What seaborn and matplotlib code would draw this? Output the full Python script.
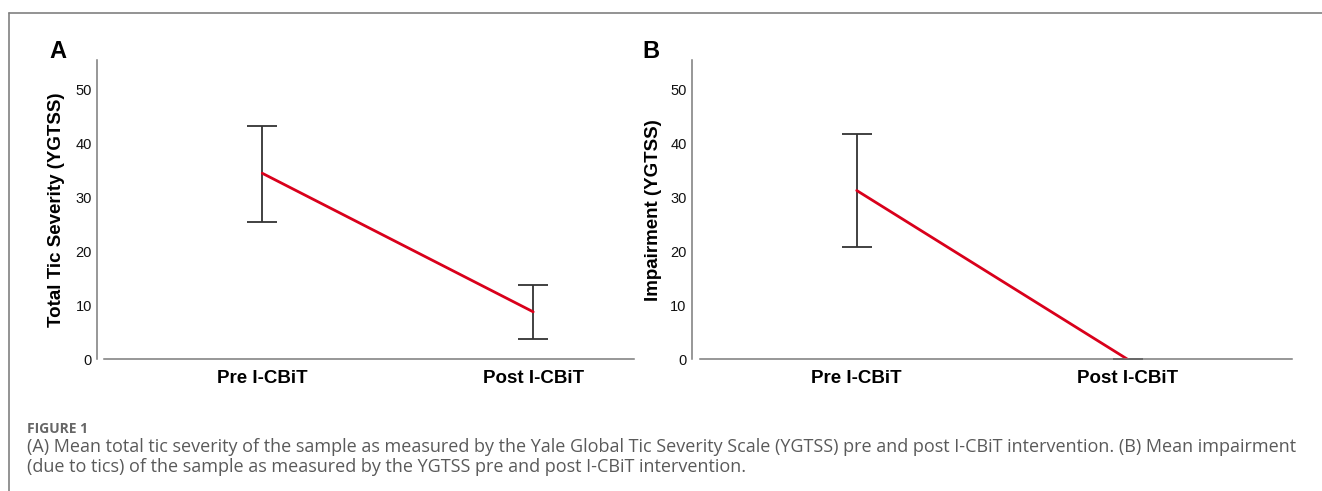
import numpy as np
import pandas as pd
import matplotlib.pyplot as plt
import seaborn as sns
from matplotlib.lines import Line2D

# -----------------------------
# Data
# -----------------------------
phases = ["Pre I-CBiT", "Post I-CBiT"]

tic_mean = [34.5, 8.8]
tic_lower = [25.5, 3.8]
tic_upper = [43.3, 13.8]

imp_mean = [31.3, 0.0]
imp_lower = [20.9, 0.0]
imp_upper = [41.7, 0.0]

sns.set_style("white")
plt.rcParams["font.family"] = ["Liberation Sans", "DejaVu Sans"]
plt.rcParams["text.color"] = "black"
plt.rcParams["axes.labelcolor"] = "black"

W, H = 1322, 491
fig = plt.figure(figsize=(W / 100, H / 100), dpi=100)

red = "#d9001b"
bar_col = "#333333"
spine_col = "#7a7a7a"


def px(x0, y0, x1, y1):
    # pixel box -> figure fraction rect
    return [x0 / W, 1 - y1 / H, (x1 - x0) / W, (y1 - y0) / H]


def panel(rect, means, lower, upper, ylabel, xlim, xstart, label_x):
    ax = fig.add_axes(rect)
    df = pd.DataFrame({"phase": phases, "mean": means})
    sns.lineplot(data=df, x="phase", y="mean", color=red, linewidth=2.0,
                 ax=ax, errorbar=None)
    m = np.array(means)
    yerr = [m - np.array(lower), np.array(upper) - m]
    ax.errorbar(phases, means, yerr=yerr, fmt="none", ecolor=bar_col,
                elinewidth=1.3, capsize=10.5, capthick=1.3, zorder=1)

    ax.set_xlim(*xlim)
    ax.set_ylim(0, 55.5)
    ax.set_yticks([0, 10, 20, 30, 40, 50])

    for s in ["top", "right"]:
        ax.spines[s].set_visible(False)
    for s in ["left", "bottom"]:
        ax.spines[s].set_color(spine_col)
        ax.spines[s].set_linewidth(1.1)
    ax.spines["bottom"].set_bounds(xstart, xlim[1])

    ax.tick_params(axis="y", direction="in", length=5, width=1.0,
                   color="#b0b0b0", pad=3.5, labelsize=10.5,
                   labelcolor="#111111")
    ax.tick_params(axis="x", length=0, pad=7.5, labelsize=13.5,
                   labelcolor="black")
    for t in ax.get_xticklabels():
        t.set_fontweight("bold")

    ax.set_xlabel("")
    ax.set_ylabel(ylabel, fontsize=13.5, fontweight="bold", va="center",
                  color="black")
    ax.yaxis.set_label_coords(label_x, 0.5)
    return ax


axA = panel(px(96.7, 60, 634, 359.3), tic_mean, tic_lower, tic_upper,
            "Total Tic Severity (YGTSS)", (-0.611, 1.372), -0.584, -0.074)
axB = panel(px(691.5, 60, 1292, 359.3), imp_mean, imp_lower, imp_upper,
            "Impairment (YGTSS)", (-0.61, 1.607), -0.58, -0.064)

# panel letters
fig.text(49 / W, 1 - 58 / H, "A", fontsize=17, fontweight="bold",
         color="black")
fig.text(642 / W, 1 - 58 / H, "B", fontsize=17, fontweight="bold",
         color="black")

# frame around figure area
fig.add_artist(Line2D([9.3 / W, 1], [1 - 13.3 / H, 1 - 13.3 / H],
                      color="#808080", lw=1.2))
fig.add_artist(Line2D([9.3 / W, 9.3 / W], [0, 1 - 13.3 / H],
                      color="#808080", lw=1.2))

# caption
cap_font = ["Open Sans", "DejaVu Sans"]
fig.text(27 / W, 1 - 433 / H, "FIGURE 1", fontsize=10, fontweight="bold",
         color="#666666", family=cap_font)
fig.text(27 / W, 1 - 452 / H,
         "(A) Mean total tic severity of the sample as measured by the Yale "
         "Global Tic Severity Scale (YGTSS) pre and post I-CBiT intervention. "
         "(B) Mean impairment",
         fontsize=13, color="#5a5a5a", family=cap_font)
fig.text(27 / W, 1 - 472 / H,
         "(due to tics) of the sample as measured by the YGTSS pre and post "
         "I-CBiT intervention.",
         fontsize=13, color="#5a5a5a", family=cap_font)

fig.savefig("out.png", dpi=100)
